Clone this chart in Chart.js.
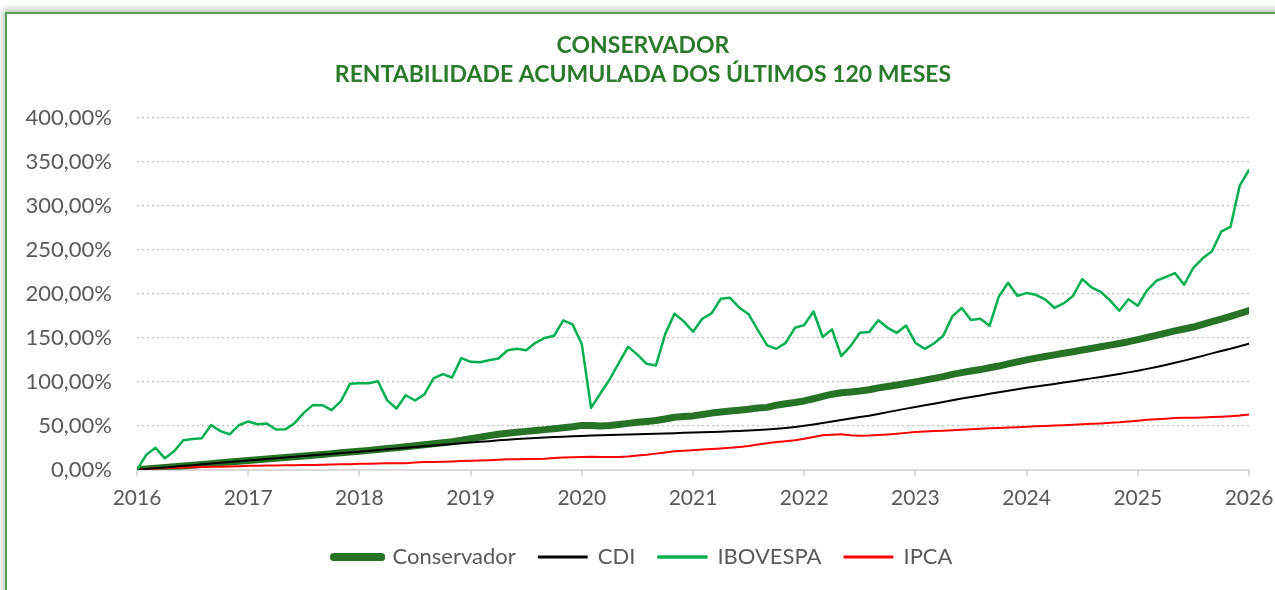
<!DOCTYPE html>
<html>
<head>
<meta charset="utf-8">
<script src="https://cdn.jsdelivr.net/npm/chart.js@4.4.1/dist/chart.umd.min.js"></script>
<style>
  html, body { margin: 0; padding: 0; background: #fff; }
  #wrap { position: relative; width: 1275px; height: 590px; overflow: hidden; }
  #frame {
    position: absolute; left: 5px; top: 12px; width: 1300px; height: 620px;
    border: 2px solid #5f9e5f; background: #fff;
    box-shadow: -2px -3px 6px rgba(90, 140, 90, 0.45);
  }
  #chart { position: absolute; left: 0; top: 0; }
</style>
</head>
<body>
<div id="wrap">
  <div id="frame"></div>
  <canvas id="chart" width="1275" height="590"></canvas>
</div>
<script>
var years = ['2016', '2017', '2018', '2019', '2020', '2021', '2022', '2023', '2024', '2025', '2026'];
var yTicks = [0, 50, 100, 150, 200, 250, 300, 350, 400];

// rentabilidade acumulada mensal (%), 121 pontos: jan/2016 .. jan/2026
var conservador = [
  0, 0.9, 1.8, 2.6, 3.5, 4.4, 5.3, 6.1, 7.0, 7.9, 8.8, 9.6,
  10.5, 11.4, 12.2, 13.1, 14.0, 14.9, 15.8, 16.6, 17.5, 18.4, 19.3, 20.2,
  21.1, 22.1, 23.1, 24.2, 25.2, 26.3, 27.4, 28.5, 29.6, 30.8, 32.0, 33.6,
  35.5, 37.2, 38.9, 40.4, 41.5, 42.6, 43.7, 44.7, 45.7, 46.7, 47.8, 49.0,
  50.5, 50.4, 49.9, 50.3, 51.5, 52.8, 54.0, 55.0, 56.0, 57.8, 59.8, 60.6,
  61.3, 62.9, 64.5, 65.7, 66.8, 67.8, 68.9, 70.2, 71.0, 73.5, 75.2, 76.5,
  78.3, 80.8, 83.5, 86.0, 87.6, 88.5, 89.6, 91.0, 93.2, 94.8, 96.4, 98.2,
  100.0, 102.0, 104.0, 106.0, 108.5, 110.5, 112.3, 114.0, 116.0, 118.0, 120.5, 122.8,
  125.0, 127.0, 128.8, 130.7, 132.5, 134.3, 136.2, 138.0, 139.9, 141.8, 143.7, 145.7,
  148.0, 150.5, 153.0, 155.5, 158.0, 160.2, 162.4, 165.5, 168.5, 171.5, 174.5, 177.8,
  181.0
];
var cdi = [
  0, 0.9, 1.8, 2.7, 3.6, 4.5, 5.3, 6.2, 7.1, 8.0, 8.8, 9.7,
  10.5, 11.4, 12.2, 13.1, 14.0, 14.8, 15.7, 16.5, 17.3, 18.1, 19.0, 19.8,
  20.6, 21.5, 22.4, 23.3, 24.1, 25.0, 25.8, 26.7, 27.6, 28.4, 29.3, 30.2,
  31.0, 31.8, 32.6, 33.5, 34.2, 34.9, 35.5, 36.1, 36.7, 37.2, 37.7, 38.1,
  38.5, 38.9, 39.3, 39.6, 39.9, 40.2, 40.5, 40.8, 41.1, 41.4, 41.7, 42.0,
  42.4, 42.7, 43.0, 43.4, 43.8, 44.2, 44.7, 45.2, 45.8, 46.6, 47.6, 48.8,
  50.2, 51.6, 53.2, 55.0, 56.7, 58.4, 60.1, 61.5, 63.5, 65.6, 67.6, 69.6,
  71.5, 73.3, 75.2, 77.2, 79.2, 81.0, 82.8, 84.6, 86.4, 88.1, 89.8, 91.5,
  93.2, 94.7, 96.2, 97.7, 99.3, 100.8, 102.3, 104.0, 105.6, 107.3, 109.0, 110.8,
  112.7, 114.8, 117.0, 119.3, 121.7, 124.2, 126.8, 129.6, 132.4, 135.1, 137.6, 140.5,
  143.5
];
var ibovespa = [
  0, 17, 25, 13, 21, 33.6, 35, 36, 51, 44, 40.4, 50.7,
  55, 51.8, 52.6, 45.8, 46, 53, 64.7, 73.8, 73.5, 67.8, 78, 98,
  98.5, 98.5, 100.8, 79, 69.7, 84.8, 78.8, 85.6, 103.9, 108.8, 105, 127,
  122.8, 122.4, 124.7, 126.6, 136, 137.6, 136, 144.4, 150, 152.4, 170, 165.4,
  143, 70.4, 86.8, 102.7, 121.6, 140, 131, 120.5, 118.7, 154.3, 177.5, 168.8,
  157, 171.8, 178, 194.5, 195.7, 184.3, 177, 158.9, 141.5, 137.6, 144.4, 161.5,
  164.6, 180, 151, 159.7, 129.3, 140.7, 155.8, 156.6, 170, 161.5, 155.8, 164,
  144.4, 137.6, 143.7, 152.4, 174.8, 184, 170.3, 171.8, 163.8, 197, 212.8, 198,
  201, 199, 193.8, 184.3, 189.3, 197.6, 217, 207.5, 202.5, 192.7, 180.9, 194,
  186.6, 204, 215, 219.2, 223.8, 210.5, 229.8, 240.5, 248.5, 270.8, 276.2, 323.2,
  341
];
var ipca = [
  0, 0.9, 1.4, 1.8, 2.2, 2.6, 3.0, 3.2, 3.4, 3.6, 3.8, 4.1,
  4.5, 4.7, 4.9, 5.0, 5.1, 5.1, 5.4, 5.6, 5.8, 6.0, 6.2, 6.4,
  6.8, 7.0, 7.1, 7.4, 7.4, 7.5, 8.4, 8.8, 9.0, 9.2, 9.5, 9.9,
  10.3, 10.5, 10.9, 11.5, 12.0, 12.1, 12.2, 12.2, 12.6, 13.3, 13.9, 14.3,
  14.6, 14.8, 14.6, 14.5, 14.7, 15.0, 16.2, 17.0, 18.4, 19.8, 21.0, 21.6,
  22.2, 23.0, 23.7, 24.3, 25.0, 26.0, 27.2, 28.7, 30.2, 31.5, 32.6, 33.6,
  35.2, 37.3, 39.3, 40.0, 40.5, 39.3, 38.6, 38.9, 39.5, 40.2, 41.0, 42.0,
  43.0, 43.5, 44.0, 44.5, 45.0, 45.5, 46.0, 46.6, 47.2, 47.6, 48.0, 48.5,
  49.0, 49.4, 49.8, 50.3, 50.8, 51.3, 51.8, 52.3, 52.8, 53.4, 54.0, 55.0,
  55.8, 56.8, 57.6, 58.2, 58.8, 59.1, 59.3, 59.6, 60.0, 60.4, 61.0, 61.8,
  63.0
];

function toPoints(values) {
  return values.map(function (v, i) { return { x: i, y: v }; });
}

var textGrey = '#595959';
var fontFamily = 'Lato, "Open Sans", sans-serif';

var chart = new Chart(document.getElementById('chart'), {
  type: 'line',
  data: {
    datasets: [
      { label: 'Conservador', data: toPoints(conservador), borderColor: '#267326', backgroundColor: '#267326', borderWidth: 7, order: 4 },
      { label: 'CDI', data: toPoints(cdi), borderColor: '#000000', backgroundColor: '#000000', borderWidth: 2, order: 2 },
      { label: 'IBOVESPA', data: toPoints(ibovespa), borderColor: '#00b050', backgroundColor: '#00b050', borderWidth: 2.5, order: 1 },
      { label: 'IPCA', data: toPoints(ipca), borderColor: '#ff0000', backgroundColor: '#ff0000', borderWidth: 2, order: 3 }
    ]
  },
  options: {
    responsive: false,
    animation: false,
    elements: {
      point: { radius: 0, hoverRadius: 0 },
      line: { tension: 0, borderCapStyle: 'round', borderJoinStyle: 'round' }
    },
    layout: { autoPadding: false, padding: { left: 11, right: 0, top: 0, bottom: 12 } },
    plugins: {
      title: {
        display: true,
        text: ['CONSERVADOR', 'RENTABILIDADE ACUMULADA DOS ÚLTIMOS 120 MESES'],
        color: '#2b7a2b',
        font: { family: fontFamily, size: 23, weight: 'bold', lineHeight: 1.22 },
        padding: { top: 32, bottom: 30 }
      },
      legend: {
        position: 'bottom',
        labels: {
          color: textGrey,
          font: { family: fontFamily, size: 22 },
          boxWidth: 48,
          boxHeight: 1,
          padding: 23,
          sort: function (a, b) { return a.datasetIndex - b.datasetIndex; }
        }
      },
      tooltip: { enabled: false }
    },
    scales: {
      x: {
        type: 'linear',
        min: 0,
        max: 120,
        afterBuildTicks: function (scale) {
          scale.ticks = years.map(function (y, k) { return { value: k * 12 }; });
        },
        afterFit: function (scale) {
          scale.height += 2;
          // labels at both ends may overflow; keep the plot width fixed
          scale.paddingLeft = 0;
          scale.paddingRight = 0;
        },
        ticks: {
          color: textGrey,
          font: { family: fontFamily, size: 21 },
          padding: 10,
          maxRotation: 0,
          callback: function (v) { return years[Math.round(v / 12)]; }
        },
        grid: { drawOnChartArea: false, drawTicks: true, tickLength: 6, color: '#d9d9d9', lineWidth: 2 },
        border: { display: true, color: '#d9d9d9', width: 2 }
      },
      y: {
        min: 0,
        max: 400,
        afterBuildTicks: function (scale) {
          scale.ticks = yTicks.map(function (v) { return { value: v }; });
        },
        afterFit: function (scale) { scale.width = 126; },
        ticks: {
          color: textGrey,
          font: { family: fontFamily, size: 22 },
          padding: 25,
          callback: function (v) { return v.toFixed(2).replace('.', ',') + '%'; }
        },
        grid: {
          color: function (ctx) { return ctx.tick && ctx.tick.value === 0 ? 'rgba(0,0,0,0)' : '#bfbfbf'; },
          lineWidth: 1.3,
          drawTicks: false
        },
        border: { display: false, dash: [2, 3] }
      },
      yRight: {
        position: 'right',
        display: true,
        afterFit: function (scale) { scale.width = 26; },
        ticks: { display: false },
        grid: { display: false },
        border: { display: false }
      }
    }
  }
});
</script>
</body>
</html>
